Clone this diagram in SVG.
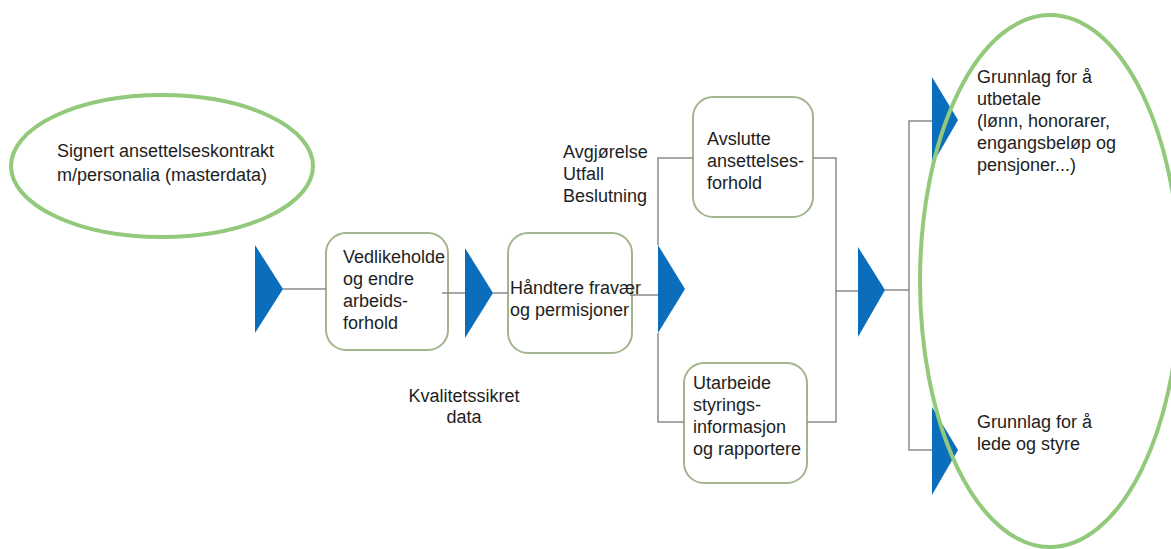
<svg xmlns="http://www.w3.org/2000/svg" width="1171" height="549" viewBox="0 0 1171 549">
  <style>
    .txt { font-family: "Liberation Sans", Arial, sans-serif; font-size: 18px; fill: #1e1e1e; }
    .box { fill: #ffffff; stroke: #a2b58f; stroke-width: 2; }
    .oval { fill: none; stroke: #93c97b; stroke-width: 4; }
    .tri { fill: #0a6ebd; }
    .wire { fill: none; stroke: #8a8a8a; stroke-width: 1.5; }
  </style>
  <rect width="1171" height="549" fill="#ffffff"/>

  <g id="start-contract">
    <ellipse class="oval" cx="162" cy="166" rx="151" ry="71"/>
    <text class="txt" x="57" y="157">Signert ansettelseskontrakt</text>
    <text class="txt" x="57" y="181">m/personalia (masterdata)</text>
  </g>

  <g id="gate-in">
    <polygon class="tri" points="255,245 283,289 255,333"/>
  </g>

  <g id="maintain">
    <rect class="box" x="326" y="233" width="122" height="117" rx="20"/>
    <text class="txt" x="343" y="263">Vedlikeholde</text>
    <text class="txt" x="343" y="285">og endre</text>
    <text class="txt" x="343" y="307">arbeids-</text>
    <text class="txt" x="343" y="329">forhold</text>
  </g>

  <g id="gate-2">
    <polygon class="tri" points="465,248 493,293 465,338"/>
  </g>

  <g id="absence">
    <rect class="box" x="508" y="233" width="124" height="120" rx="20"/>
    <text class="txt" x="510" y="294">Håndtere fravær</text>
    <text class="txt" x="510" y="316">og permisjoner</text>
  </g>

  <g id="quality-label">
    <text class="txt" x="464" y="402" text-anchor="middle">Kvalitetssikret</text>
    <text class="txt" x="464" y="423" text-anchor="middle">data</text>
  </g>

  <g id="gate-3">
    <polygon class="tri" points="658,245 685,289 658,333"/>
  </g>

  <g id="decision-label">
    <text class="txt" x="563" y="158">Avgjørelse</text>
    <text class="txt" x="563" y="180">Utfall</text>
    <text class="txt" x="563" y="202">Beslutning</text>
  </g>

  <g id="terminate">
    <rect class="box" x="693" y="97" width="120" height="120" rx="20"/>
    <text class="txt" x="707" y="145">Avslutte</text>
    <text class="txt" x="707" y="167">ansettelses-</text>
    <text class="txt" x="707" y="189">forhold</text>
  </g>

  <g id="reporting">
    <rect class="box" x="684" y="363" width="123" height="120" rx="20"/>
    <text class="txt" x="693" y="389">Utarbeide</text>
    <text class="txt" x="693" y="411">styrings-</text>
    <text class="txt" x="693" y="433">informasjon</text>
    <text class="txt" x="693" y="455">og rapportere</text>
  </g>

  <g id="gate-4">
    <polygon class="tri" points="858,247 885,290 858,337"/>
  </g>

  <g id="gate-pay">
    <polygon class="tri" points="932,77 958,120 932,165"/>
  </g>

  <g id="gate-lead">
    <polygon class="tri" points="932,407 958,450 932,495"/>
  </g>

  <g id="outcomes">
    <ellipse class="oval" cx="1050" cy="281" rx="130" ry="266"/>
    <text class="txt" x="977" y="83">Grunnlag for å</text>
    <text class="txt" x="977" y="105">utbetale</text>
    <text class="txt" x="977" y="127">(lønn, honorarer,</text>
    <text class="txt" x="977" y="149">engangsbeløp og</text>
    <text class="txt" x="977" y="171">pensjoner...)</text>
    <text class="txt" x="977" y="428">Grunnlag for å</text>
    <text class="txt" x="977" y="450">lede og styre</text>
  </g>

  <!-- connectors, drawn over the box borders -->
  <g id="connectors">
    <path class="wire" d="M283,289 H326"/>
    <path class="wire" d="M442,293 H465"/>
    <path class="wire" d="M493,293 H508"/>
    <path class="wire" d="M630,295 H658"/>
    <path class="wire" d="M693,158 H658 V245 M658,333 V422 H684"/>
    <path class="wire" d="M813,158 H836 V422 H807"/>
    <path class="wire" d="M836,291 H858"/>
    <path class="wire" d="M885,290 H909"/>
    <path class="wire" d="M932,121 H909 V450 H932"/>
  </g>
</svg>
